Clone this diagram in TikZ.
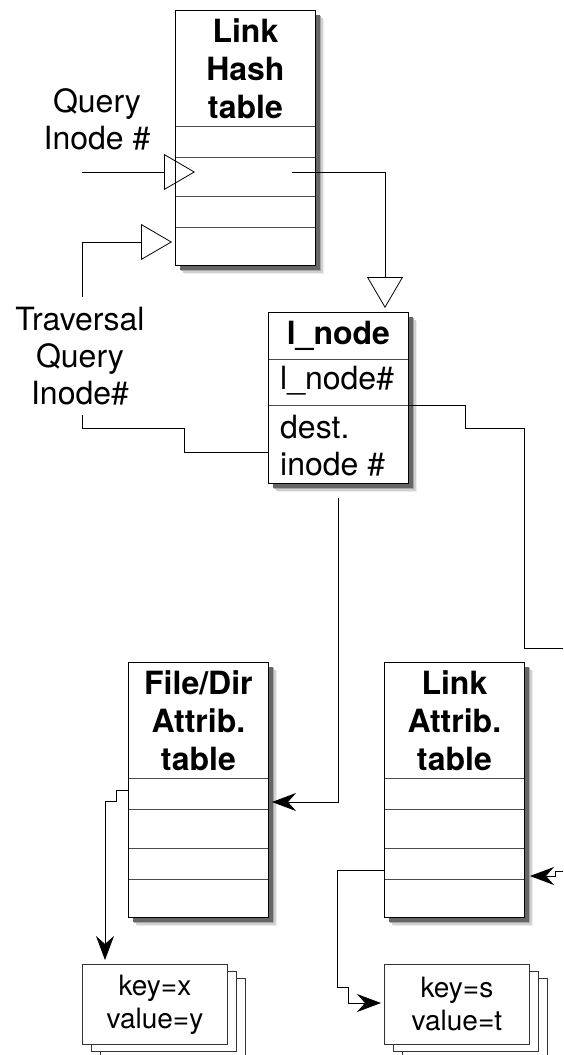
\documentclass[tikz,border=0pt]{standalone}
\usepackage{fontspec}
\setmainfont{TeX Gyre Heros}
\usetikzlibrary{arrows.meta}
\newcommand\tblfont{\bfseries\fontsize{32}{38}\selectfont}
\newcommand\lblfont{\fontsize{32}{37}\selectfont}
\newcommand\stkfont{\fontsize{28}{33}\selectfont}
\newcommand\boxshade[4]{%
  \fill[black!7] (#1+9,#2+9) rectangle (#3+9,#4+9);
  \fill[black!18] (#1+7.5,#2+7.5) rectangle (#3+7.5,#4+7.5);
  \fill[black!35] (#1+6,#2+6) rectangle (#3+6,#4+6);
  \fill[black!60] (#1+4.5,#2+4.5) rectangle (#3+4.5,#4+4.5);}
\begin{document}
\begin{tikzpicture}[x=1pt,y=-1pt,
  conn/.style={line width=0.8pt,line join=miter},
  openhead/.style={-{Triangle[open,length=31pt,width=36pt]}},
  solidhead/.style={-{Stealth[length=24pt,width=18pt,inset=8pt]}},
  cell/.style={draw=black!70,line width=0.8pt,fill=white,inner sep=0pt,
    minimum width=140pt,anchor=north west},
  frame/.style={draw=black,line width=0.8pt},
  stk/.style={draw=black!80,line width=0.8pt,fill=white,inner sep=0pt,
    minimum width=145pt,minimum height=80pt,anchor=north west},
  lbl/.style={font=\lblfont,align=center,inner sep=0pt}]
\useasboundingbox (0,0) rectangle (563,1055);

% ---------- Link Hash table ----------
\boxshade{175}{10}{315}{265}
\node[cell,minimum height=116pt,font=\tblfont,align=center] (lh0) at (175,10) {Link\\Hash\\table};
\node[cell,minimum height=31pt] (lh1) at (175,126) {};
\node[cell,minimum height=39pt] (lh2) at (175,157) {};
\node[cell,minimum height=31pt] (lh3) at (175,196) {};
\node[cell,minimum height=38pt] (lh4) at (175,227) {};
\draw[frame] (lh0.north west) rectangle (lh4.south east);

% ---------- l_node ----------
\boxshade{268}{312}{408}{483}
\node[cell,minimum height=47pt,font=\tblfont] (ln0) at (268,312) {l\_node};
\node[cell,minimum height=46pt] (ln1) at (268,359) {};
\node[cell,minimum height=78pt] (ln2) at (268,405) {};
\draw[frame] (ln0.north west) rectangle (ln2.south east);
\node[font=\lblfont,anchor=west,inner sep=0pt] (ln1t) at (280,381) {l\_node\#};
\node[font=\lblfont,anchor=west,align=left,inner sep=0pt] (ln2t) at (280,446) {dest.\\inode \#};

% ---------- File/Dir Attrib. table ----------
\boxshade{128}{662}{268}{917}
\node[cell,minimum height=116pt,font=\tblfont,align=center] (fd0) at (128,662) {File/Dir\\Attrib.\\table};
\node[cell,minimum height=31pt] (fd1) at (128,778) {};
\node[cell,minimum height=39pt] (fd2) at (128,809) {};
\node[cell,minimum height=31pt] (fd3) at (128,848) {};
\node[cell,minimum height=38pt] (fd4) at (128,879) {};
\draw[frame] (fd0.north west) rectangle (fd4.south east);

% ---------- Link Attrib. table ----------
\boxshade{384}{662}{524}{917}
\node[cell,minimum height=116pt,font=\tblfont,align=center] (la0) at (384,662) {Link\\Attrib.\\table};
\node[cell,minimum height=31pt] (la1) at (384,778) {};
\node[cell,minimum height=39pt] (la2) at (384,809) {};
\node[cell,minimum height=31pt] (la3) at (384,848) {};
\node[cell,minimum height=38pt] (la4) at (384,879) {};
\draw[frame] (la0.north west) rectangle (la4.south east);

% ---------- stacked records ----------
\node[stk] (kx3) at (100,978) {};
\node[stk] (kx2) at (91,971) {};
\node[stk,font=\stkfont,align=center] (kx) at (82,964) {key=x\\value=y};
\node[stk] (ks3) at (402,978) {};
\node[stk] (ks2) at (393,971) {};
\node[stk,font=\stkfont,align=center] (ks) at (384,964) {key=s\\value=t};

% ---------- labels ----------
\node[lbl] (qlab) at (97,119) {Query\\Inode \#};
\node[lbl] (tlab) at (80,356) {Traversal\\Query\\Inode\#};

% ---------- connector end points ----------
\coordinate (q0) at (82,172);
\coordinate (q1) at (195,172);
\coordinate (t0) at (82,297);
\coordinate (t1) at (172,242);
\coordinate (t2) at (82,415);
\coordinate (ldest) at (268,452);
\coordinate (h0) at (292,172);
\coordinate (lntop) at (385,308);
\coordinate (lnr) at (408,405);
\coordinate (rout) at (563,648);
\coordinate (rin) at (563,871);
\coordinate (latip) at (530,876);
\coordinate (lnb) at (338,498);
\coordinate (fdtip) at (272,802);
\coordinate (fdl) at (128,790);
\coordinate (kxtip) at (105,960);
\coordinate (lal) at (384,870);
\coordinate (kstip) at (381,1003);

% ---------- connectors ----------
\draw[conn,openhead] (q0) -- (q1);
\draw[conn,openhead] (t0) |- (t1);
\draw[conn] (t2) |- (184,428) |- (ldest);
\draw[conn,openhead] (h0) -| (lntop);
\draw[conn] (lnr) -- (465,405) |- (524,428) |- (rout);
\draw[conn,solidhead] (rin) -- (555,871) |- (latip);
\draw[conn,solidhead] (lnb) |- (fdtip);
\draw[conn,solidhead] (fdl) -- (116,790) |- (105,801) -- (kxtip);
\draw[conn,solidhead] (lal) -- (337,870) |- (348,987) |- (kstip);
\end{tikzpicture}
\end{document}
